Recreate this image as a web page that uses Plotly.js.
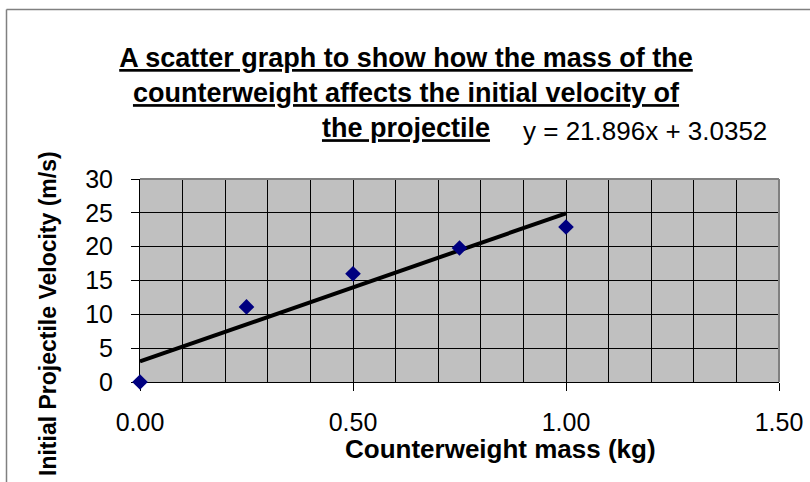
<!DOCTYPE html>
<html>
<head>
<meta charset="utf-8">
<script src="https://cdn.plot.ly/plotly-3.0.1.min.js"></script>
<style>html,body{margin:0;padding:0;background:#fff;}#chart{width:810px;height:482px;}</style>
</head>
<body>
<div id="chart"></div>
<script>
// Data
var massKg = [0, 0.25, 0.5, 0.75, 1.0];
var velocity = [0, 11.1, 16.0, 19.8, 22.9];
// Linear trendline as printed on the chart
var trendSlope = 21.896;
var trendIntercept = 3.0352;
var trendX = [0, 1.0];
var trendY = trendX.map(function (x) { return trendSlope * x + trendIntercept; });
var equationText = 'y = 21.896x + 3.0352';
var titleText = 'A scatter graph to show how the mass of the<br>counterweight affects the initial velocity of<br>the projectile';
var xTitle = 'Counterweight mass (kg)';
var yTitle = 'Initial Projectile Velocity (m/s)';

var W = 810, H = 482;
var L = 140, R = 779, T = 179, B = 382;
function px(x) { return (x - L) / (R - L); }
function py(y) { return (B - y) / (B - T); }
var FONT = 'Liberation Sans, Arial, sans-serif';

var traces = [
  {
    x: trendX, y: trendY, type: 'scatter', mode: 'lines',
    line: { color: '#000000', width: 4 }, hoverinfo: 'skip', showlegend: false
  },
  {
    x: massKg, y: velocity, type: 'scatter', mode: 'markers',
    marker: { symbol: 'diamond', size: 12, color: '#000080', line: { width: 0 } },
    cliponaxis: false, showlegend: false
  }
];

var layout = {
  width: W, height: H,
  paper_bgcolor: '#ffffff', plot_bgcolor: '#C0C0C0',
  margin: { l: L, r: W - R, t: T, b: H - B, pad: 0 },
  font: { family: FONT, color: '#000000' },
  showlegend: false,
  title: {
    text: titleText,
    font: { family: FONT, size: 27, weight: 'bold', color: '#000000', lineposition: 'under' },
    xref: 'container', yref: 'container',
    x: 406 / W, xanchor: 'center',
    y: 1 - 67 / H, yanchor: 'top',
    pad: { t: 0, b: 0, l: 0, r: 0 }
  },
  xaxis: {
    range: [0, 1.5], dtick: 0.5, tick0: 0, tickformat: '.2f',
    showgrid: true, gridcolor: '#000000', gridwidth: 1,
    minor: { dtick: 0.1, tick0: 0, showgrid: true, gridcolor: '#000000', gridwidth: 1, ticks: '' },
    zeroline: false, showline: true, linecolor: '#000000', linewidth: 1,
    ticks: 'outside', ticklen: 8, tickwidth: 1, tickcolor: '#000000',
    ticklabelstandoff: 10,
    tickfont: { family: FONT, size: 25, color: '#000000' },
    layer: 'below traces', fixedrange: true
  },
  yaxis: {
    range: [0, 30], dtick: 5, tick0: 0,
    showgrid: true, gridcolor: '#000000', gridwidth: 1,
    zeroline: false, showline: true, linecolor: '#000000', linewidth: 1,
    ticks: 'outside', ticklen: 8, tickwidth: 1, tickcolor: '#000000',
    ticklabelstandoff: 13,
    tickfont: { family: FONT, size: 25, color: '#000000' },
    layer: 'below traces', fixedrange: true
  },
  shapes: [
    // plot area border (top and right in grey)
    { type: 'line', xref: 'paper', yref: 'paper', x0: 0, x1: 1, y0: 1, y1: 1, line: { color: '#808080', width: 2 }, layer: 'above' },
    { type: 'line', xref: 'paper', yref: 'paper', x0: 1, x1: 1, y0: 0, y1: 1, line: { color: '#808080', width: 2 }, layer: 'above' },
    // chart area border
    { type: 'line', xref: 'paper', yref: 'paper', x0: px(6.5), x1: px(815), y0: py(9.5), y1: py(9.5), line: { color: '#808080', width: 1.5 } },
    { type: 'line', xref: 'paper', yref: 'paper', x0: px(6.5), x1: px(6.5), y0: py(9.5), y1: py(490), line: { color: '#808080', width: 1.5 } }
  ],
  annotations: [
    {
      text: equationText, xref: 'paper', yref: 'paper',
      x: px(521), y: py(131), xanchor: 'left', yanchor: 'middle', showarrow: false,
      font: { family: FONT, size: 26, color: '#000000' }
    },
    {
      text: xTitle, xref: 'paper', yref: 'paper',
      x: px(500.5), y: py(449), xanchor: 'center', yanchor: 'middle', showarrow: false,
      font: { family: FONT, size: 26, weight: 'bold', color: '#000000' }
    },
    {
      text: yTitle, xref: 'paper', yref: 'paper', textangle: -90,
      x: px(48), y: py(314), xanchor: 'center', yanchor: 'middle', showarrow: false,
      font: { family: FONT, size: 23, weight: 'bold', color: '#000000' }
    }
  ]
};

Plotly.newPlot('chart', traces, layout, { staticPlot: true, displayModeBar: false });
</script>
</body>
</html>
